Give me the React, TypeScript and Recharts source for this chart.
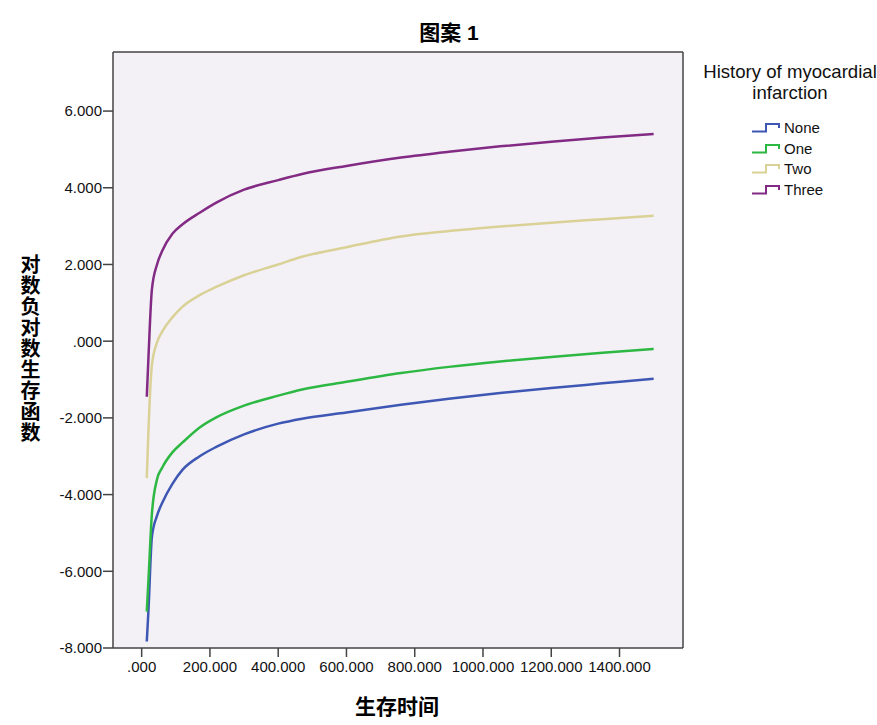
import { CartesianGrid, Line, LineChart, ReferenceLine, XAxis, YAxis } from "recharts";

// survival time (x) shared by all four curves
const times = [15, 20, 30, 45, 60, 90, 120, 170, 220, 300, 400, 470, 600, 760, 900, 1050, 1200, 1350, 1500];

const none = [-7.83, -7.0, -5.1, -4.55, -4.22, -3.72, -3.35, -3.0, -2.75, -2.43, -2.15, -2.02, -1.86, -1.66, -1.5, -1.35, -1.22, -1.1, -0.98];
const one = [-7.05, -6.2, -4.5, -3.6, -3.3, -2.9, -2.64, -2.25, -1.98, -1.68, -1.42, -1.26, -1.06, -0.83, -0.67, -0.53, -0.41, -0.3, -0.2];
const two = [-3.57, -2.3, -0.62, -0.03, 0.25, 0.62, 0.9, 1.2, 1.42, 1.72, 2.0, 2.2, 2.45, 2.73, 2.87, 2.99, 3.09, 3.18, 3.27];
const three = [-1.45, -0.4, 1.35, 2.0, 2.35, 2.8, 3.05, 3.35, 3.62, 3.95, 4.2, 4.36, 4.57, 4.79, 4.94, 5.08, 5.2, 5.31, 5.4];

const xTicks = [0, 200, 400, 600, 800, 1000, 1200, 1400];
const yTicks = [-8, -6, -4, -2, 0, 2, 4, 6];

const series = [
  { key: "none", name: "None", color: "#3f57b4", values: none },
  { key: "one", name: "One", color: "#2db843", values: one },
  { key: "two", name: "Two", color: "#d9d196", values: two },
  { key: "three", name: "Three", color: "#822a84", values: three },
];

const data = times.map((t, i) => {
  const row: Record<string, number> = { t };
  series.forEach((s) => (row[s.key] = s.values[i]));
  return row;
});

const xDomain: [number, number] = [-84, 1586];
const yDomain: [number, number] = [-8, 7.54];

const fmt = (v: number) => v.toFixed(3).replace(/^0\./, ".");

const axisColor = "#444444";
const tickStyle = { fontSize: 15, fill: "#111", fontFamily: "'Liberation Sans', Arial, sans-serif" };

function StepIcon({ color }: { color: string }) {
  return (
    <svg width={30} height={11} style={{ display: "block" }}>
      <path d="M1,9.5 H15 V2 H28 V6" fill="none" stroke={color} strokeWidth={2} />
    </svg>
  );
}

export default function App() {
  return (
    <div
      style={{
        position: "absolute",
        left: 0,
        top: 0,
        width: 877,
        height: 725,
        background: "#ffffff",
        overflow: "hidden",
        fontFamily: "'Liberation Sans', Arial, sans-serif",
      }}
    >
      <LineChart width={877} height={725} data={data} margin={{ top: 52, right: 194, bottom: 0, left: 0 }}>
        <CartesianGrid fill="#f3f1f6" horizontal={false} vertical={false} />
        <XAxis
          dataKey="t"
          type="number"
          domain={xDomain}
          ticks={xTicks}
          tickFormatter={fmt}
          allowDataOverflow
          height={77}
          tickSize={9}
          tickMargin={4}
          tick={tickStyle}
          stroke={axisColor}
          strokeWidth={1.5}
        />
        <YAxis
          type="number"
          domain={yDomain}
          ticks={yTicks}
          tickFormatter={fmt}
          allowDataOverflow
          width={113}
          tickSize={10}
          tickMargin={1}
          tick={tickStyle}
          stroke={axisColor}
          strokeWidth={1.5}
        />
        {/* frame: top and right edges of the plot */}
        <ReferenceLine y={yDomain[1]} stroke={axisColor} strokeWidth={1.5} />
        <ReferenceLine x={xDomain[1]} stroke={axisColor} strokeWidth={1.5} />
        {series.map((s) => (
          <Line
            key={s.key}
            dataKey={s.key}
            name={s.name}
            type="monotone"
            stroke={s.color}
            strokeWidth={2.5}
            dot={false}
            isAnimationActive={false}
          />
        ))}
      </LineChart>

      <div
        style={{
          position: "absolute",
          left: 349,
          top: 20,
          width: 200,
          textAlign: "center",
          fontSize: 21,
          lineHeight: "25px",
          fontWeight: "bold",
          fontFamily: "'Liberation Sans', 'Noto Sans CJK SC', sans-serif",
        }}
      >
        图案 1
      </div>

      <div
        style={{
          position: "absolute",
          left: 17,
          top: 254,
          writingMode: "vertical-rl",
          fontSize: 20,
          letterSpacing: 1,
          lineHeight: "26px",
          fontWeight: "bold",
          fontFamily: "'Noto Sans CJK SC', sans-serif",
        }}
      >
        对数负对数生存函数
      </div>

      <div
        style={{
          position: "absolute",
          left: 297,
          top: 692,
          width: 200,
          textAlign: "center",
          fontSize: 21,
          lineHeight: "26px",
          fontWeight: "bold",
          fontFamily: "'Noto Sans CJK SC', sans-serif",
        }}
      >
        生存时间
      </div>

      <div
        style={{
          position: "absolute",
          left: 670,
          top: 61,
          width: 240,
          textAlign: "center",
          fontSize: 18.6,
          lineHeight: "21px",
          color: "#111",
          whiteSpace: "nowrap",
        }}
      >
        History of myocardial
        <br />
        infarction
      </div>

      <div style={{ position: "absolute", left: 751, top: 117 }}>
        {series.map((s) => (
          <div key={s.key} style={{ display: "flex", alignItems: "center", height: 20.8, fontSize: 15, color: "#111" }}>
            <StepIcon color={s.color} />
            <span style={{ marginLeft: 3 }}>{s.name}</span>
          </div>
        ))}
      </div>
    </div>
  );
}
